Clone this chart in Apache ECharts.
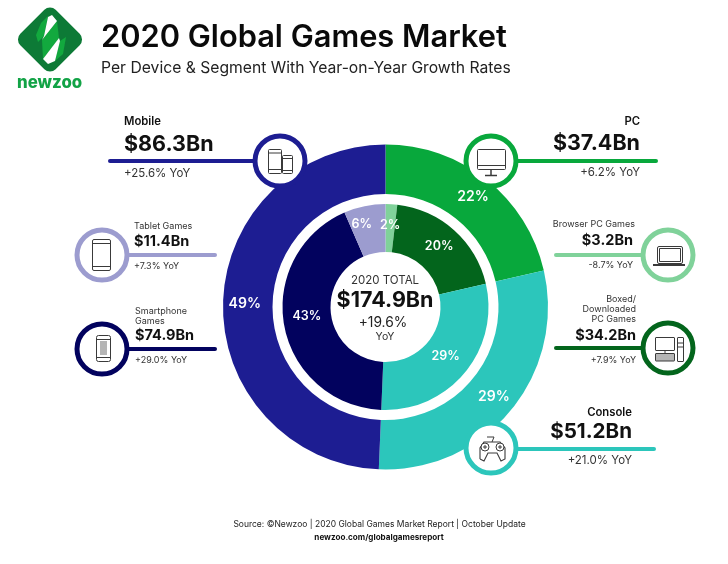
<!DOCTYPE html>
<html>
<head>
<meta charset="utf-8">
<style>
  html, body { margin: 0; padding: 0; background: #fff; }
  #chart { width: 728px; height: 564px; }
</style>
<script src="https://cdn.jsdelivr.net/npm/echarts@6/dist/echarts.min.js"></script>
</head>
<body>
<div id="chart"></div>
<script>
// outer ring, clockwise from the top
const deviceNames = ["PC", "Console", "Mobile"];
const deviceValues = [37.4, 51.2, 86.3];
const deviceShares = ["22%", "29%", "49%"];
const deviceColors = ["#08a83c", "#2cc6bb", "#1d1d92"];

// inner ring, clockwise from the top
const segmentNames = ["Browser PC Games", "Boxed/Downloaded PC Games", "Console", "Smartphone Games", "Tablet Games"];
const segmentValues = [3.2, 34.2, 51.2, 74.9, 11.4];
const segmentShares = ["2%", "20%", "29%", "43%", "6%"];
const segmentColors = ["#80d29a", "#03651c", "#2cc6bb", "#02025e", "#9c9ccf"];

const FONT = "Inter";
const DARK = "#111111";
const GREY = "#333333";
const ICON = "#3a3a3a";

const totalLines = ["2020 TOTAL", "$174.9Bn", "+19.6%", "YoY"];
const sourceLine = "Source: ©Newzoo | 2020 Global Games Market Report | October Update";
const sourceLink = "newzoo.com/globalgamesreport";

// graphic helpers
const graphics = [];
function text(x, y, str, size, opts) {
  opts = opts || {};
  graphics.push({
    type: "text", x: x, y: y, z: 20,
    style: {
      text: str, fontFamily: FONT, fontSize: size,
      fontWeight: opts.weight || 400,
      fill: opts.color || GREY,
      align: opts.align || "left",
      verticalAlign: "middle"
    }
  });
}
function line(x1, y1, x2, y2, color, width) {
  graphics.push({
    type: "line", z: 12, shape: { x1: x1, y1: y1, x2: x2, y2: y2 },
    style: { stroke: color, lineWidth: width, lineCap: "round" }
  });
}
function stroke(x1, y1, x2, y2, width) {
  graphics.push({
    type: "line", z: 16, shape: { x1: x1, y1: y1, x2: x2, y2: y2 },
    style: { stroke: ICON, lineWidth: width || 1 }
  });
}
function box(x, y, w, h, r, fill) {
  graphics.push({
    type: "rect", z: 16, shape: { x: x, y: y, width: w, height: h, r: r || 0 },
    style: { fill: fill || "none", stroke: ICON, lineWidth: 1 }
  });
}
function ring(x, y, r, color) {
  graphics.push({
    type: "circle", z: 14, shape: { cx: x, cy: y, r: r },
    style: { fill: "#fff", stroke: color, lineWidth: 5 }
  });
}
function dot(x, y, r) {
  graphics.push({
    type: "circle", z: 16, shape: { cx: x, cy: y, r: r },
    style: { fill: "#fff", stroke: ICON, lineWidth: 1 }
  });
}
function poly(points, color) {
  graphics.push({
    type: "polygon", z: 16, shape: { points: points },
    style: { fill: color }
  });
}

// logo
graphics.push({
  type: "rect", z: 14, x: 50, y: 39.5, rotation: Math.PI / 4,
  shape: { x: -25, y: -25, width: 50, height: 50, r: 8 },
  style: { fill: "#0d7a36" }
});
poly([[41, 23], [48, 16], [44, 36], [38, 42], [36, 35]], "#12a93e");
poly([[57, 21], [59, 38], [43, 59], [42, 40]], "#12a93e");
poly([[60, 41], [66, 37], [63, 54], [55, 61]], "#12a93e");
poly([[48, 17], [52, 15], [57, 21], [42, 40], [44, 36]], "#fff");
poly([[59, 38], [60, 41], [55, 61], [48, 64], [43, 59]], "#fff");
text(17, 83, "newzoo", 16.8, { weight: 800, color: "#12a346" });

// title
text(101, 38, "2020 Global Games Market", 30.8, { weight: 600, color: "#0a0a0a" });
text(101, 68, "Per Device & Segment With Year-on-Year Growth Rates", 15.7, { color: "#222" });

// callouts: device level
line(110, 161, 258, 161, deviceColors[2], 4);
ring(280, 161, 25, deviceColors[2]);
text(124, 122, "Mobile", 11.3, { weight: 600, color: DARK });
text(124, 145, "$86.3Bn", 21.5, { weight: 700, color: DARK });
text(124, 174, "+25.6% YoY", 11.5);

line(505, 161, 656, 161, deviceColors[0], 4);
ring(491, 161, 25, deviceColors[0]);
text(640, 122, "PC", 11.3, { weight: 600, color: DARK, align: "right" });
text(640, 144, "$37.4Bn", 21.5, { weight: 700, color: DARK, align: "right" });
text(640, 173, "+6.2% YoY", 11.5, { align: "right" });

line(505, 449, 654, 449, deviceColors[1], 4);
ring(491, 448, 25, deviceColors[1]);
text(632, 413, "Console", 11.3, { weight: 600, color: DARK, align: "right" });
text(632, 432, "$51.2Bn", 20.6, { weight: 700, color: DARK, align: "right" });
text(632, 461, "+21.0% YoY", 11.5, { align: "right" });

// callouts: segment level
line(120, 255, 215, 255, segmentColors[4], 4);
ring(102, 255, 25, segmentColors[4]);
text(134, 226, "Tablet Games", 9);
text(134, 242, "$11.4Bn", 14.5, { weight: 700, color: DARK });
text(134, 266, "+7.3% YoY", 9);

line(120, 349, 215, 349, segmentColors[3], 4);
ring(102, 349, 25, segmentColors[3]);
text(135, 311, "Smartphone", 9);
text(135, 321, "Games", 9);
text(135, 336, "$74.9Bn", 14.5, { weight: 700, color: DARK });
text(135, 360, "+29.0% YoY", 9);

line(556, 255, 650, 255, segmentColors[0], 4);
ring(668, 255, 25, segmentColors[0]);
text(635, 224, "Browser PC Games", 9, { align: "right" });
text(633, 241, "$3.2Bn", 14.5, { weight: 700, color: DARK, align: "right" });
text(633, 265, "-8.7% YoY", 9, { align: "right" });

line(556, 348, 650, 348, segmentColors[1], 4);
ring(668, 348, 25, segmentColors[1]);
text(636, 299, "Boxed/", 9, { align: "right" });
text(636, 309, "Downloaded", 9, { align: "right" });
text(636, 319, "PC Games", 9, { align: "right" });
text(636, 336, "$34.2Bn", 14.5, { weight: 700, color: DARK, align: "right" });
text(636, 360, "+7.9% YoY", 9, { align: "right" });

// icons
// mobile: phone and small phone
box(268.5, 149.5, 13, 24, 1); stroke(268.5, 153, 281.5, 153); stroke(268.5, 169.5, 281.5, 169.5);
box(282.5, 155.5, 10, 18, 1); stroke(282.5, 158.5, 292.5, 158.5); stroke(282.5, 170.5, 292.5, 170.5);
// tablet
box(92.5, 239.5, 18, 31, 1.5); stroke(92.5, 243.5, 110.5, 243.5); stroke(92.5, 266.5, 110.5, 266.5);
// smartphone
box(96.5, 335.5, 14, 26, 2); stroke(96.5, 339.5, 110.5, 339.5); stroke(96.5, 357.5, 110.5, 357.5);
poly([[100, 341], [107, 341], [107, 355], [100, 355]], "#b5b5b5");
// monitor
box(477.5, 149.5, 28, 20, 1); stroke(477.5, 165.5, 505.5, 165.5);
stroke(491, 170, 491, 175, 1.5); stroke(485, 175.5, 497, 175.5, 1.5);
// laptop
box(657.5, 246.5, 25, 17, 1.5); box(659.5, 248.5, 21, 13);
stroke(653, 265, 685, 265, 2);
// desktop with keyboard
box(655.5, 337.5, 19, 13, 0.5); box(677.5, 337.5, 6, 24, 0.5);
box(655.5, 353.5, 19, 7.5, 0.5, "#b5b5b5");
stroke(665, 350, 665, 353); stroke(677.5, 343, 683.5, 343); stroke(677.5, 347, 683.5, 347);
// gamepad
graphics.push({
  type: "polyline", z: 16,
  shape: { points: [[480, 459], [480, 448], [484, 442], [500, 442], [505, 448], [505, 459], [501, 461], [497, 453], [488, 453], [484, 461], [480, 459]] },
  style: { fill: "#fff", stroke: ICON, lineWidth: 1.1 }
});
stroke(487, 437, 494, 437); stroke(494, 437, 492, 442);
dot(485, 447, 4); dot(500, 447, 4);
stroke(483, 447, 487, 447); stroke(485, 445, 485, 449);
stroke(498, 447, 502, 447); stroke(500, 445, 500, 449);

// centre of the donut
text(385, 281, totalLines[0], 11.5, { align: "center", color: GREY });
text(385, 301, totalLines[1], 21.5, { weight: 700, align: "center", color: DARK });
text(383, 323, totalLines[2], 13.8, { align: "center", color: "#222" });
text(385, 337, totalLines[3], 10.5, { align: "center", color: GREY });

// footer
text(379.5, 524, sourceLine, 8.5, { align: "center", color: "#222" });
text(379, 538, sourceLink, 8.1, { weight: 700, align: "center", color: DARK });

function sliceData(names, values, colors) {
  return names.map((n, i) => ({ name: n, value: values[i], itemStyle: { color: colors[i] } }));
}

const segmentLabelNudge = [[0, 0], [-1, 0], [-3, -3], [2, -6], [-7, -2]];

const chart = echarts.init(document.getElementById("chart"), null, { renderer: "canvas" });
chart.setOption({
  animation: false,
  backgroundColor: "#fff",
  series: [
    {
      type: "pie",
      center: [385.5, 307],
      radius: [113, 162.5],
      startAngle: 90,
      clockwise: true,
      data: sliceData(deviceNames, deviceValues, deviceColors),
      label: {
        position: "inside", color: "#fff", fontFamily: FONT, fontWeight: 600, fontSize: 14,
        formatter: (p) => deviceShares[p.dataIndex]
      },
      labelLine: { show: false }
    },
    {
      type: "pie",
      center: [385.5, 307],
      radius: [55, 103],
      startAngle: 90,
      clockwise: true,
      data: sliceData(segmentNames, segmentValues, segmentColors),
      label: {
        position: "inside", color: "#fff", fontFamily: FONT, fontWeight: 600, fontSize: 12.5,
        formatter: (p) => segmentShares[p.dataIndex]
      },
      labelLayout: (p) => ({ dx: segmentLabelNudge[p.dataIndex][0], dy: segmentLabelNudge[p.dataIndex][1] }),
      labelLine: { show: false }
    }
  ],
  graphic: { elements: graphics }
});
</script>
</body>
</html>
